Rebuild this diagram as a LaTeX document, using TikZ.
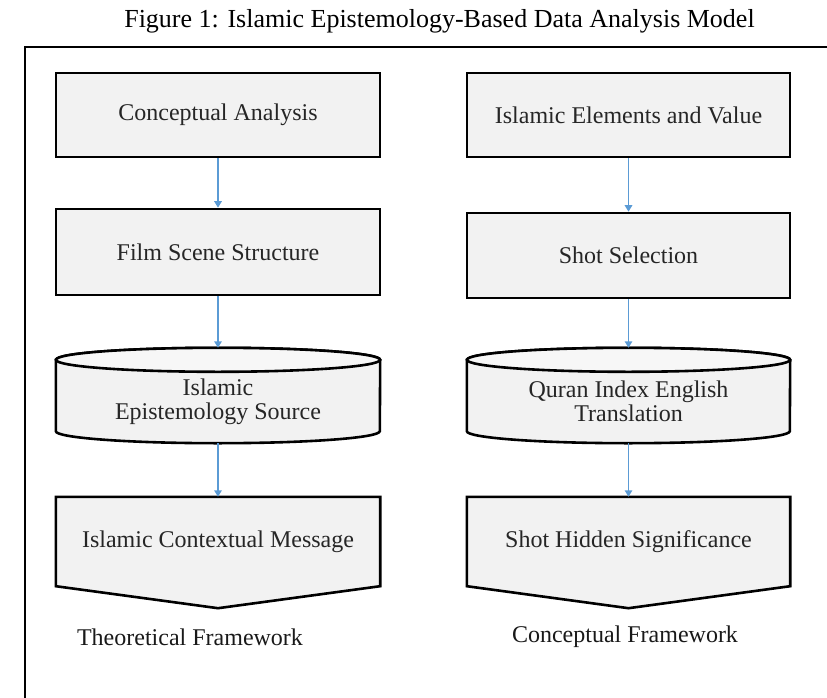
\documentclass[tikz,border=0pt]{standalone}
\usepackage{fontspec}
\setmainfont{Liberation Serif}
\usetikzlibrary{arrows.meta,calc,backgrounds}
\definecolor{boxfill}{HTML}{F2F2F2}
\definecolor{capfill}{HTML}{F7F7F7}
\definecolor{arrowblue}{HTML}{5B9BD5}
\begin{document}
\begin{tikzpicture}[x=1pt,y=1pt,
  shapeline/.style={draw=black, line width=2.6pt, line join=miter},
  boxtext/.style={font=\fontsize{24}{24}\selectfont, align=center, inner sep=0pt, text=black!85},
  box/.style={boxtext, shapeline, fill=boxfill, minimum width=324pt, minimum height=84pt},
  cyl/.style={boxtext, minimum width=324pt, minimum height=83pt},
  pent/.style={boxtext, minimum width=324pt, minimum height=89pt},
  conn/.style={draw=arrowblue, line width=1.4pt, -{Triangle[width=7.5pt,length=6.5pt]}},
  lab/.style={font=\fontsize{24}{24}\selectfont, inner sep=0pt, text=black!90},
  ttl/.style={font=\fontsize{26}{26}\selectfont, inner sep=0pt}]
\useasboundingbox (0,0) rectangle (827,-698);
% title and frame
\node[ttl] (title) at (439.5,-21) {Figure 1: Islamic Epistemology-Based Data Analysis Model};
\draw[line width=2.8pt] (830,-47) -- (25,-47) -- (25,-702);
% left column
\node[box] (a1) at (218,-115) {Conceptual Analysis};
\node[box, minimum height=86pt] (a2) at (218,-252) {Film Scene Structure};
\node[cyl] (a3) at (218,-401.5) {Islamic\\Epistemology Source};
\node[pent] (a4) at (218,-541.5) {Islamic Contextual Message};
\coordinate (a3top) at ($(a3.north)+(0,12)$);
% right column
\node[box, minimum width=323pt] (b1) at (628.5,-115) {Islamic Elements and Value};
\node[box, minimum width=323pt, minimum height=85pt] (b2) at (628.5,-255.5) {Shot Selection};
\node[cyl, minimum width=323pt] (b3) at (628.5,-401.5) {Quran Index English\\Translation};
\node[pent, minimum width=323pt] (b4) at (628.5,-541.5) {Shot Hidden Significance};
\coordinate (b3top) at ($(b3.north)+(0,12)$);
\begin{scope}[on background layer]
  \foreach \n/\r in {a3/162, b3/161.5} {
    \draw[shapeline, fill=boxfill] (\n.north west) -- ($(\n.south west)+(0,12)$)
      arc[start angle=180, end angle=360, x radius=\r pt, y radius=12pt]
      -- (\n.north east)
      arc[start angle=0, end angle=180, x radius=\r pt, y radius=12pt] -- cycle;
    \draw[shapeline, fill=capfill] (\n.north) ellipse[x radius=\r pt, y radius=12pt];
  }
  \foreach \n in {a4, b4} {
    \draw[shapeline, fill=boxfill] (\n.north west) -- (\n.north east) -- (\n.south east)
      -- ($(\n.south)+(0,-22)$) -- (\n.south west) -- cycle;
  }
\end{scope}
% labels
\node[lab] (t1) at (190,-637) {Theoretical Framework};
\node[lab] (t2) at (625,-637) {Conceptual Framework};
% connectors
\draw[conn] (a1) -- (a2);
\draw[conn] (a2) -- (a3top);
\draw[conn] (a3) -- (a4);
\draw[conn] (b1) -- (b2);
\draw[conn] (b2) -- (b3top);
\draw[conn] (b3) -- (b4);
\end{tikzpicture}
\end{document}
